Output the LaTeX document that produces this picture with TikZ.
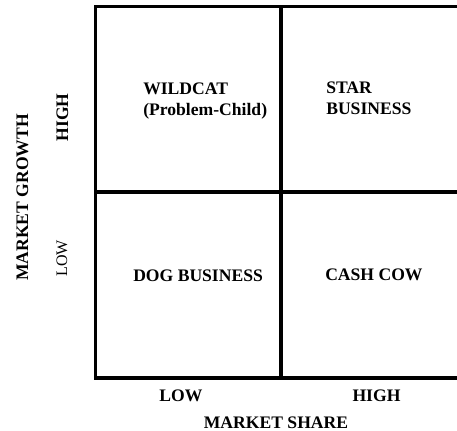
\documentclass[tikz,border=0pt]{standalone}
\usepackage{fontspec}
\setmainfont{Liberation Serif}

\begin{document}
\begin{tikzpicture}[x=0.75pt,y=-0.75pt,
    grid/.style={line width=2.4pt,line join=miter},
    lbl/.style={font=\bfseries\fontsize{13.2}{15.75}\selectfont,
        inner sep=0pt,anchor=base west,align=left},
    axislbl/.style={font=\bfseries\fontsize{13.2}{15.75}\selectfont,
        inner sep=0pt,anchor=base},
    axislow/.style={font=\fontsize{12}{14}\selectfont,
        inner sep=0pt,anchor=base}]
    \useasboundingbox (0,0) rectangle (457,430);

    % the matrix
    \draw[grid] (457,6.5) -- (95.5,6.5) -- (95.5,378) -- (457,378);
    \draw[grid] (281,6.5) -- (281,378);
    \draw[grid] (95.5,192) -- (457,192);

    % quadrants (base = last line)
    \node[lbl] (wildcat) at (143,115) {WILDCAT\\(Problem-Child)};
    \node[lbl] (star) at (326,114) {STAR\\BUSINESS};
    \node[lbl] (dog) at (133,281) {DOG BUSINESS};
    \node[lbl] (cow) at (325,280) {CASH COW};

    % market share axis
    \node[axislbl] (sharelow) at (181,401) {LOW};
    \node[axislbl] (sharehigh) at (376.5,401) {HIGH};
    \node[axislbl] (share) at (276,428) {MARKET SHARE};

    % market growth axis
    \node[axislbl,rotate=90] (growth) at (28,197.5) {MARKET GROWTH};
    \node[axislbl,rotate=90] (growthhigh) at (68,117.5) {HIGH};
    \node[axislow,rotate=90] (growthlow) at (67,258.5) {LOW};

\end{tikzpicture}
\end{document}
